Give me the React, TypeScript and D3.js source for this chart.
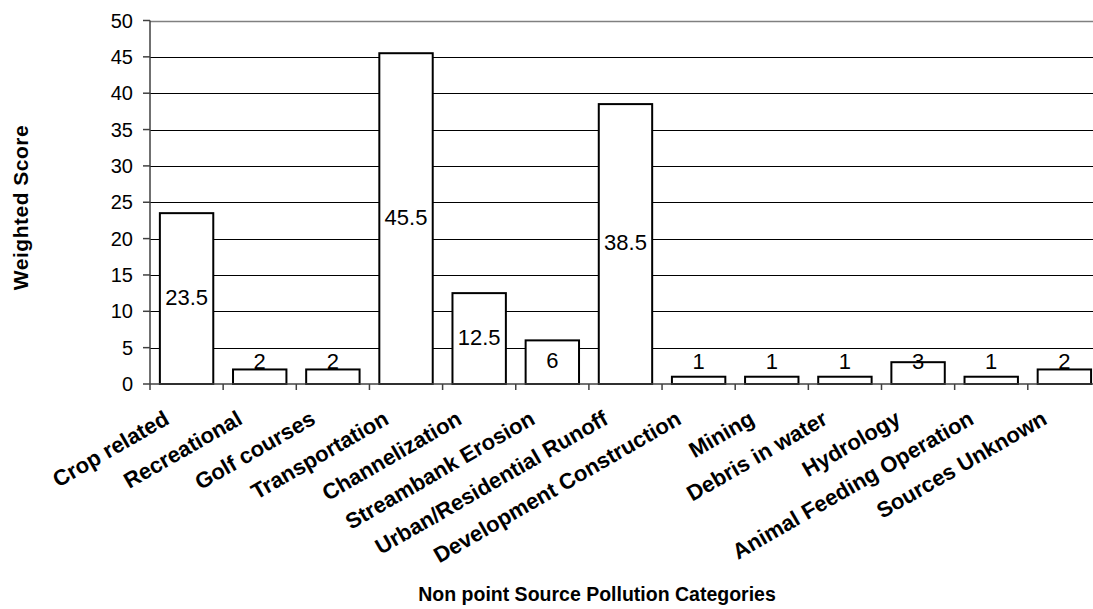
import React from "react";
import * as d3 from "d3";

const categories = [
  "Crop related",
  "Recreational",
  "Golf courses",
  "Transportation",
  "Channelization",
  "Streambank Erosion",
  "Urban/Residential Runoff",
  "Development Construction",
  "Mining",
  "Debris in water",
  "Hydrology",
  "Animal Feeding Operation",
  "Sources Unknown",
];
const values = [23.5, 2, 2, 45.5, 12.5, 6, 38.5, 1, 1, 1, 3, 1, 2];
const yTicks = [0, 5, 10, 15, 20, 25, 30, 35, 40, 45, 50];

const W = 1093;
const H = 609;
const left = 150;
const band = 73.15;
const right = left + band * categories.length;
const top = 20.5;
const bottom = 384;
const FONT = "Liberation Sans, Arial, sans-serif";

export default function App() {
  const x = d3
    .scaleBand<string>()
    .domain(categories)
    .range([left, right])
    .paddingInner(0.27)
    .paddingOuter(0.135);
  const y = d3.scaleLinear().domain([0, 50]).range([bottom, top]);
  const boundaries = d3.range(categories.length + 1).map((i) => left + i * band);

  return (
    <div style={{ position: "absolute", left: 0, top: 0 }}>
      <svg width={W} height={H} style={{ display: "block", background: "#fff" }}>
        {/* gridlines */}
        {yTicks
          .filter((t) => t > 0 && t < 50)
          .map((t) => (
            <line key={t} x1={left} x2={right} y1={Math.round(y(t)) + 0.5} y2={Math.round(y(t)) + 0.5} stroke="#000" strokeWidth={1} />
          ))}
        <line x1={left} x2={right} y1={Math.round(y(50)) + 0.5} y2={Math.round(y(50)) + 0.5} stroke="#808080" strokeWidth={1.5} />
        {/* bars */}
        {categories.map((c, i) => (
          <rect
            key={c}
            x={x(c)}
            y={y(values[i])}
            width={x.bandwidth()}
            height={y(0) - y(values[i])}
            fill="#fff"
            stroke="#000"
            strokeWidth={2}
          />
        ))}
        {/* axes */}
        <line x1={left} x2={left} y1={top} y2={bottom} stroke="#404040" strokeWidth={1.5} />
        <line x1={left} x2={right} y1={bottom} y2={bottom} stroke="#404040" strokeWidth={1.5} />
        {yTicks.map((t) => (
          <g key={t}>
            <line x1={left - 7} x2={left} y1={y(t)} y2={y(t)} stroke="#404040" strokeWidth={1.5} />
            <text x={133} y={y(t)} dy="0.35em" textAnchor="end" fontFamily={FONT} fontSize={20} fill="#000">
              {t}
            </text>
          </g>
        ))}
        {boundaries.map((b, i) => (
          <line key={i} x1={b} x2={b} y1={bottom} y2={bottom + 6} stroke="#404040" strokeWidth={1.5} />
        ))}
        {/* value labels */}
        {categories.map((c, i) => {
          const cy = Math.min((y(values[i]) + y(0)) / 2 - 1.5, bottom - 23);
          return (
            <text key={c} x={(x(c) as number) + x.bandwidth() / 2} y={cy} dy="0.35em" textAnchor="middle" fontFamily={FONT} fontSize={22} fill="#000">
              {values[i]}
            </text>
          );
        })}
        {/* category labels */}
        {categories.map((c) => {
          const cx = (x(c) as number) + x.bandwidth() / 2 - 16;
          const cy = bottom + 39;
          return (
            <text key={c} transform={`translate(${cx},${cy}) rotate(-30)`} textAnchor="end" fontFamily={FONT} fontWeight="bold" fontSize={22} fill="#000">
              {c}
            </text>
          );
        })}
        {/* axis titles */}
        <text transform={`translate(28,207.5) rotate(-90)`} textAnchor="middle" fontFamily={FONT} fontWeight="bold" fontSize={21} letterSpacing={0.5} fill="#000">
          Weighted Score
        </text>
        <text x={597} y={601} textAnchor="middle" fontFamily={FONT} fontWeight="bold" fontSize={19.5} fill="#000">
          Non point Source Pollution Categories
        </text>
      </svg>
    </div>
  );
}
